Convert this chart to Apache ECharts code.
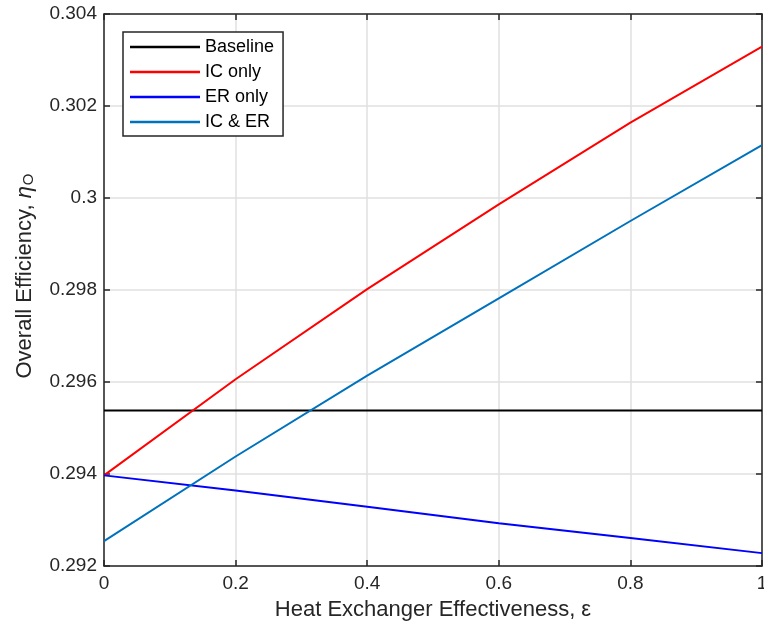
<!DOCTYPE html>
<html lang="en">
<head>
    <meta charset="UTF-8">
    <title>Overall Efficiency</title>
    <script src="https://cdn.jsdelivr.net/npm/echarts@6.0.0/dist/echarts.min.js"></script>
    <style>
        html, body { margin: 0; padding: 0; background: #fff; }
        #main { width: 764px; height: 628px; }
    </style>
</head>
<body>
    <div id="main"></div>
<script>
    // effectiveness values (x)
    var eps = [0, 0.2, 0.4, 0.6, 0.8, 1];
    // overall efficiency
    var baseline = [0.29538, 0.29538, 0.29538, 0.29538, 0.29538, 0.29538];
    var icOnly   = [0.29397, 0.29606, 0.29802, 0.29986, 0.30164, 0.30329];
    var erOnly   = [0.29397, 0.29364, 0.29329, 0.29293, 0.29261, 0.29228];
    var icEr     = [0.29254, 0.29438, 0.29614, 0.29782, 0.29950, 0.30115];
    var xTicks = [0, 0.2, 0.4, 0.6, 0.8, 1];
    var yTicks = [0.292, 0.294, 0.296, 0.298, 0.3, 0.302, 0.304];

    var txt = '#262626';
    var font = 'Liberation Sans, Arial, sans-serif';

    function pairs(ys) {
        return eps.map(function (x, i) { return [x, ys[i]]; });
    }

    function line(name, ys, color, width) {
        return {
            name: name,
            type: 'line',
            data: pairs(ys),
            symbol: 'none',
            showSymbol: false,
            lineStyle: { color: color, width: width },
            itemStyle: { color: color },
            z: 3
        };
    }

    // box axes (top / right) just carry inside ticks
    function boxAxis(pos, min, max, interval) {
        return {
            type: 'value', position: pos, min: min, max: max, interval: interval,
            axisLine: { show: true, onZero: false, lineStyle: { color: txt, width: 1.5 } },
            axisTick: { show: true, inside: true, length: 6, lineStyle: { color: txt, width: 1.5 } },
            axisLabel: { show: false },
            splitLine: { show: false }
        };
    }

    var chart = echarts.init(document.getElementById('main'));
    chart.setOption({
        animation: false,
        backgroundColor: '#fff',
        textStyle: { fontFamily: font },
        grid: { left: 104, right: 2, top: 14, bottom: 62, outerBoundsMode: 'none' },
        legend: {
            orient: 'vertical',
            left: 123,
            top: 32,
            padding: [6, 9, 5, 7],
            itemWidth: 70,
            itemHeight: 2.5,
            itemGap: 7,
            icon: 'rect',
            borderColor: txt,
            borderWidth: 1.5,
            backgroundColor: '#fff',
            textStyle: { fontSize: 18, color: '#000', lineHeight: 18, fontFamily: font },
            data: ['Baseline', 'IC only', 'ER only', 'IC & ER']
        },
        xAxis: [{
            type: 'value',
            min: xTicks[0],
            max: xTicks[xTicks.length - 1],
            interval: 0.2,
            name: 'Heat Exchanger Effectiveness, ε',
            nameLocation: 'middle',
            nameGap: 33,
            nameTextStyle: { fontSize: 22, color: txt, fontFamily: font },
            axisLine: { show: true, onZero: false, lineStyle: { color: txt, width: 1.5 } },
            axisTick: { show: true, inside: true, length: 6, lineStyle: { color: txt, width: 1.5 } },
            axisLabel: {
                fontSize: 19, color: txt, margin: 8, fontFamily: font,
                formatter: function (v) { return String(+v.toFixed(1)); }
            },
            splitLine: { show: true, lineStyle: { color: '#e1e1e1', width: 1.5 } }
        }, boxAxis('top', 0, 1, 0.2)],
        yAxis: [{
            type: 'value',
            min: yTicks[0],
            max: yTicks[yTicks.length - 1],
            interval: 0.002,
            name: 'Overall Efficiency, {e|η}{s|O}',
            nameLocation: 'middle',
            nameGap: 68,
            nameTextStyle: {
                fontSize: 22, color: txt, fontFamily: font,
                padding: [0, 0, 0, 28],
                rich: {
                    e: { fontSize: 22, color: txt, fontFamily: font, fontStyle: 'italic' },
                    s: { fontSize: 15, color: txt, fontFamily: font, verticalAlign: 'bottom', lineHeight: 15, padding: [14, 0, 0, 1] }
                }
            },
            axisLine: { show: true, onZero: false, lineStyle: { color: txt, width: 1.5 } },
            axisTick: { show: true, inside: true, length: 6, lineStyle: { color: txt, width: 1.5 } },
            axisLabel: {
                fontSize: 19, color: txt, margin: 7, fontFamily: font,
                formatter: function (v) { return String(+v.toFixed(3)); }
            },
            splitLine: { show: true, lineStyle: { color: '#e1e1e1', width: 1.5 } }
        }, boxAxis('right', 0.292, 0.304, 0.002)],
        series: [
            line('Baseline', baseline, '#000000', 2),
            line('IC only', icOnly, '#ff0000', 2),
            line('ER only', erOnly, '#0000ff', 2),
            line('IC & ER', icEr, '#0072bd', 2)
        ]
    });
</script>
</body>
</html>
